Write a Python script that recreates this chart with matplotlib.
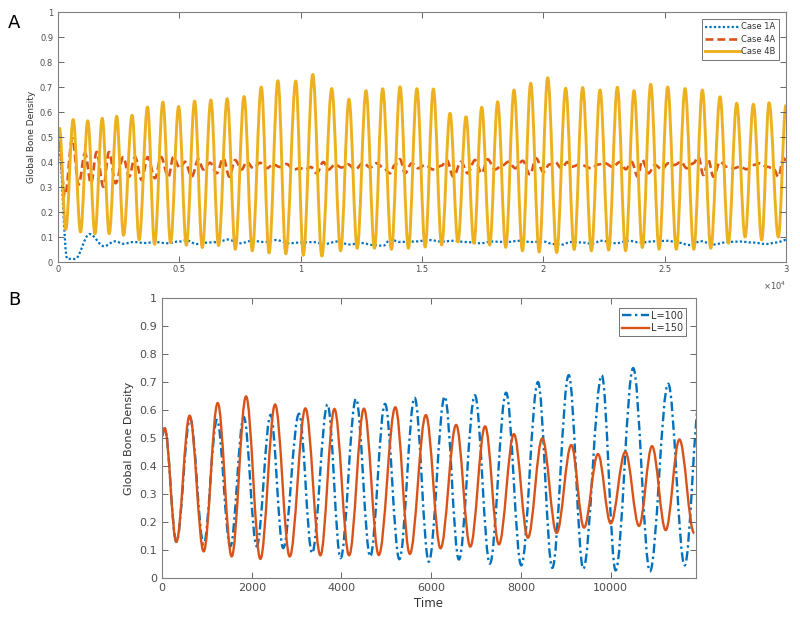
import matplotlib
matplotlib.use('Agg')
import matplotlib.pyplot as plt
from matplotlib.path import Path
from matplotlib.patches import PathPatch
from matplotlib.lines import Line2D

# --- data (turning points of each curve) ---
# Case 4B (= L=100 in panel B)
case4b_t = [0, 60, 320, 627, 929, 1225, 1523, 1822, 2110, 2420, 2700, 3054, 3344,
            3689, 3980, 4323, 4640, 4970, 5290, 5630, 5946, 6300, 6616, 6973,
            7306, 7668, 8006, 8378, 8697, 9064, 9388, 9800, 10109, 10500, 10874,
            11280, 11647, 11990, 12330, 12693, 13040, 13380, 13740, 14094, 14440,
            14790, 15130, 15468, 15810, 16155, 16480, 16814, 17140, 17460, 17790,
            18119, 18450, 18792, 19140, 19479, 19830, 20180, 20550, 20921, 21270,
            21622, 21980, 22337, 22690, 23051, 23390, 23738, 24080, 24425, 24770,
            25126, 25480, 25840, 26200, 26554, 26900, 27282, 27625, 27969, 28313,
            28656, 29000, 29302, 29684, 30000]
case4b_v = [0.51, 0.535, 0.13, 0.57, 0.12, 0.565, 0.113, 0.575, 0.113, 0.583, 0.107,
            0.587, 0.089, 0.62, 0.071, 0.64, 0.077, 0.622, 0.067, 0.644, 0.058,
            0.648, 0.066, 0.653, 0.051, 0.662, 0.045, 0.70, 0.036, 0.725, 0.033,
            0.724, 0.027, 0.75, 0.024, 0.694, 0.045, 0.651, 0.055, 0.685, 0.055,
            0.693, 0.051, 0.701, 0.055, 0.693, 0.06, 0.692, 0.068, 0.595, 0.08,
            0.581, 0.075, 0.619, 0.068, 0.641, 0.059, 0.688, 0.045, 0.715, 0.04,
            0.737, 0.038, 0.695, 0.05, 0.698, 0.045, 0.688, 0.048, 0.699, 0.045,
            0.685, 0.058, 0.711, 0.051, 0.70, 0.051, 0.694, 0.051, 0.688, 0.055,
            0.661, 0.075, 0.635, 0.1, 0.631, 0.088, 0.637, 0.1, 0.628]

# Case 4A
case4a_t = [0, 288, 591, 850, 1113, 1360, 1593, 1868, 2102, 2376, 2692, 2926, 3173,
            3448, 3695, 3997, 4245, 4547, 4753, 5028, 5234, 5509, 5784, 5990, 6265,
            6540, 6814, 7062, 7295, 7570, 7776, 8051, 8325, 8600, 8875, 9150, 9424,
            9699, 9974, 10179, 10420, 10659, 10934, 11150, 11415, 11690, 11965,
            12240, 12583, 12860, 13133, 13400, 13682, 13880, 14094, 14300, 14575,
            14850, 15124, 15468, 15800, 16018, 16292, 16608, 16883, 17185, 17460,
            17707, 18000, 18300, 18559, 18850, 19150, 19450, 19700, 20000, 20250,
            20481, 20750, 21000, 21168, 21500, 21992, 22250, 22542, 22850, 23160,
            23400, 23641, 23888, 24080, 24328, 24603, 24880, 25152, 25400, 25674,
            25908, 26183, 26389, 26595, 26801, 27007, 27282, 27557, 27831, 28106,
            28381, 28656, 28930, 29205, 29480, 29686, 29892, 30000]
case4a_v = [0.53, 0.264, 0.495, 0.31, 0.435, 0.315, 0.44, 0.301, 0.44, 0.315, 0.42,
            0.341, 0.42, 0.328, 0.42, 0.335, 0.42, 0.341, 0.42, 0.375, 0.401, 0.341,
            0.411, 0.37, 0.397, 0.355, 0.415, 0.341, 0.408, 0.37, 0.401, 0.375,
            0.397, 0.375, 0.39, 0.38, 0.392, 0.37, 0.375, 0.37, 0.38, 0.355, 0.40,
            0.37, 0.39, 0.378, 0.39, 0.37, 0.397, 0.378, 0.395, 0.378, 0.355, 0.388,
            0.411, 0.355, 0.395, 0.375, 0.388, 0.37, 0.385, 0.408, 0.341, 0.401,
            0.355, 0.408, 0.355, 0.411, 0.37, 0.385, 0.401, 0.375, 0.405, 0.35,
            0.415, 0.36, 0.39, 0.40, 0.375, 0.40, 0.381, 0.39, 0.375, 0.39, 0.395,
            0.381, 0.40, 0.371, 0.40, 0.341, 0.408, 0.355, 0.388, 0.371, 0.395,
            0.388, 0.401, 0.375, 0.395, 0.421, 0.348, 0.408, 0.341, 0.401, 0.381,
            0.375, 0.381, 0.371, 0.388, 0.395, 0.381, 0.375, 0.341, 0.415, 0.405]

# Case 1A
case1a_t = [0, 380, 700, 1300, 1900, 2350, 2700, 3100, 3600, 4000, 4500, 5000, 5300,
            5700, 6200, 6600, 7000, 7500, 8000, 8500, 9000, 9500, 10000, 10500,
            11000, 11500, 12000, 12500, 13000, 13400, 13700, 14100, 14700, 15300,
            15800, 16300, 16800, 17400, 17900, 18500, 19000, 19500, 20000, 20400,
            20800, 21100, 21600, 22000, 22400, 23000, 23500, 24000, 24600, 25100,
            25600, 26000, 26500, 27000, 27600, 28100, 28600, 29200, 29600, 30000]
case1a_v = [0.52, 0.013, 0.012, 0.112, 0.063, 0.083, 0.073, 0.08, 0.076, 0.08, 0.075,
            0.082, 0.087, 0.072, 0.078, 0.08, 0.09, 0.075, 0.085, 0.08, 0.088, 0.075,
            0.078, 0.08, 0.072, 0.082, 0.07, 0.076, 0.068, 0.065, 0.09, 0.08, 0.082,
            0.088, 0.082, 0.085, 0.08, 0.075, 0.082, 0.08, 0.085, 0.08, 0.082,
            0.072, 0.07, 0.08, 0.078, 0.073, 0.085, 0.075, 0.085, 0.078, 0.083,
            0.085, 0.077, 0.068, 0.083, 0.07, 0.08, 0.082, 0.078, 0.072, 0.078,
            0.088]

# L=150 (panel B)
l150_t = [0, 60, 320, 616, 929, 1241, 1553, 1873, 2192, 2520, 2846, 3196, 3530,
          3842, 4170, 4500, 4831, 5200, 5522, 5880, 6207, 6555, 6870, 7200, 7508,
          7842, 8155, 8474, 8794, 9121, 9404, 9716, 9999, 10325, 10631, 10920,
          11225, 11530, 11860]
l150_v = [0.506, 0.535, 0.129, 0.58, 0.095, 0.625, 0.077, 0.649, 0.068, 0.62, 0.077,
          0.606, 0.081, 0.604, 0.081, 0.605, 0.082, 0.61, 0.086, 0.582, 0.106,
          0.547, 0.112, 0.542, 0.12, 0.514, 0.144, 0.499, 0.161, 0.475, 0.18,
          0.443, 0.195, 0.451, 0.186, 0.471, 0.171, 0.495, 0.16]

BLUE = '#0072BD'
ORANGE = '#D95319'
YELLOW = '#EDB120'
TXT = '#4d4d4d'
EDGE = '#7f7f7f'


def smooth_path(t, v, k=0.36):
    # cubic curve through the turning points, flat at each of them
    verts = [(t[0], v[0])]
    codes = [Path.MOVETO]
    for i in range(len(t) - 1):
        dt = t[i + 1] - t[i]
        verts += [(t[i] + k * dt, v[i]), (t[i + 1] - k * dt, v[i + 1]),
                  (t[i + 1], v[i + 1])]
        codes += [Path.CURVE4] * 3
    return Path(verts, codes)


def add_curve(ax, t, v, **kw):
    ax.add_patch(PathPatch(smooth_path(t, v), fill=False, clip_on=True,
                           capstyle='butt', joinstyle='round', **kw))


def style_axes(ax, fs):
    ax.tick_params(direction='in', top=True, right=True, colors=TXT,
                   labelsize=fs, length=4, width=0.6)
    for s in ax.spines.values():
        s.set_color(EDGE)
        s.set_linewidth(0.8)
    ax.set_ylim(0, 1)
    ax.set_yticks([i / 10 for i in range(11)])
    ax.set_yticklabels(['0'] + [f'{i / 10:g}' for i in range(1, 10)] + ['1'])


fig = plt.figure(figsize=(8, 6.19), dpi=100)

# ---- panel A ----
axA = fig.add_axes([0.0725, 0.5767, 0.91, 0.4039])
add_curve(axA, case1a_t, case1a_v, edgecolor=BLUE, linewidth=1.6,
          linestyle=(0, (1, 1)))
add_curve(axA, case4a_t, case4a_v, edgecolor=ORANGE, linewidth=1.9,
          linestyle=(0, (3, 1.5)))
add_curve(axA, case4b_t, case4b_v, edgecolor=YELLOW, linewidth=2.1)
axA.set_xlim(0, 30000)
style_axes(axA, 6)
axA.set_xticks(range(0, 30001, 5000))
axA.set_xticklabels(['0', '0.5', '1', '1.5', '2', '2.5', '3'])
axA.tick_params(axis='x', pad=2)
axA.text(1.0, -0.07, r'$\times10^4$', transform=axA.transAxes, ha='right',
         va='top', fontsize=6, color=TXT)
axA.set_ylabel('Global Bone Density', fontsize=6.5, color='#333333', labelpad=3)
handlesA = [Line2D([], [], color=BLUE, lw=1.6, ls=(0, (1, 1))),
            Line2D([], [], color=ORANGE, lw=1.9, ls=(0, (3, 1.5))),
            Line2D([], [], color=YELLOW, lw=2.1)]
legA = axA.legend(handlesA, ['Case 1A', 'Case 4A', 'Case 4B'], loc='upper right',
                  fontsize=6, frameon=True, fancybox=False, handlelength=4.2,
                  handletextpad=0.1, borderaxespad=0.8, borderpad=0.45,
                  labelspacing=0.4)
legA.get_frame().set_edgecolor('#333333')
legA.get_frame().set_linewidth(0.6)
for txt in legA.get_texts():
    txt.set_color('#333333')

# ---- panel B ----
axB = fig.add_axes([0.2025, 0.0662, 0.6675, 0.4523])
add_curve(axB, case4b_t, case4b_v, edgecolor=BLUE, linewidth=1.7,
          linestyle=(0, (4, 1.5, 1, 1.5)))
add_curve(axB, l150_t, l150_v, edgecolor=ORANGE, linewidth=1.7)
axB.set_xlim(0, 11900)
style_axes(axB, 8)
axB.set_xticks(range(0, 10001, 2000))
axB.set_xlabel('Time', fontsize=8.5, color='#333333', labelpad=3)
axB.set_ylabel('Global Bone Density', fontsize=8, color='#333333', labelpad=4)
handlesB = [Line2D([], [], color=BLUE, lw=1.7, ls=(0, (4, 1.5, 1, 1.5))),
            Line2D([], [], color=ORANGE, lw=1.7)]
legB = axB.legend(handlesB, ['L=100', 'L=150'], loc='upper right', fontsize=7,
                  frameon=True, fancybox=False, handlelength=2.8,
                  handletextpad=0.2, borderaxespad=1.0, borderpad=0.3,
                  labelspacing=0.25)
legB.get_frame().set_edgecolor('#333333')
legB.get_frame().set_linewidth(0.6)
for txt in legB.get_texts():
    txt.set_color('#333333')

fig.text(0.010, 0.963, 'A', fontsize=13, va='center', ha='left')
fig.text(0.010, 0.515, 'B', fontsize=13, va='center', ha='left')

fig.savefig('out.png', dpi=100)
